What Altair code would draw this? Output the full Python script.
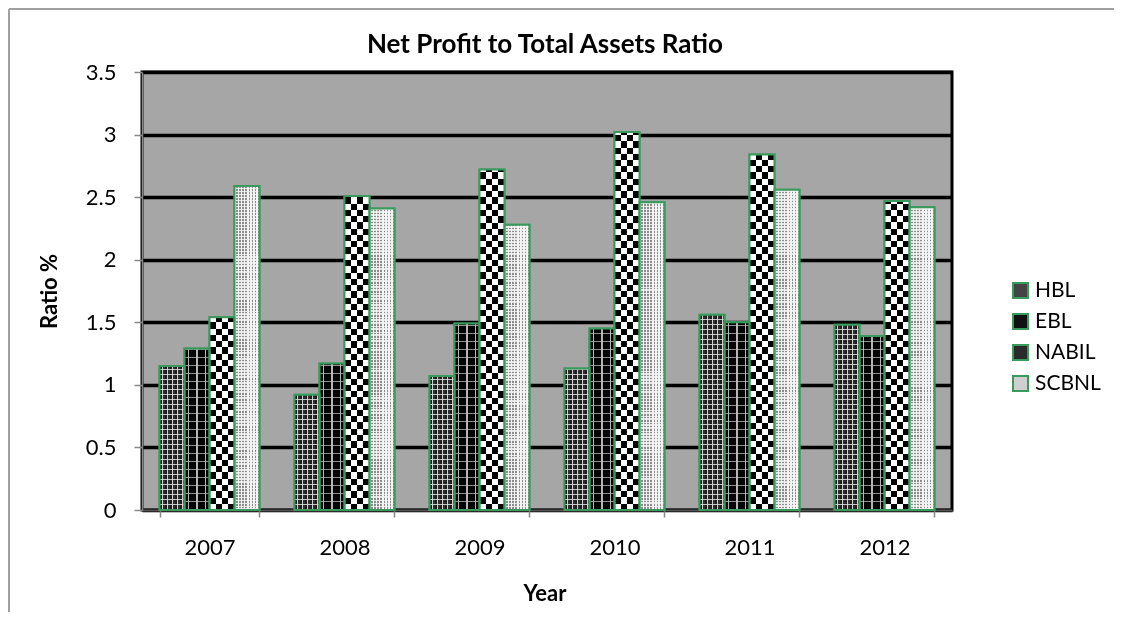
import altair as alt
import pandas as pd

years = ["2007", "2008", "2009", "2010", "2011", "2012"]
series = ["HBL", "EBL", "NABIL", "SCBNL"]
hbl = [1.15, 0.92, 1.07, 1.13, 1.56, 1.48]
ebl = [1.29, 1.17, 1.49, 1.45, 1.50, 1.39]
nabil = [1.54, 2.51, 2.72, 3.02, 2.84, 2.47]
scbnl = [2.59, 2.41, 2.28, 2.46, 2.56, 2.42]
y_ticks = [0, 0.5, 1, 1.5, 2, 2.5, 3, 3.5]

values = {"HBL": hbl, "EBL": ebl, "NABIL": nabil, "SCBNL": scbnl}
rows = []
for s in series:
    for yr, v in zip(years, values[s]):
        rows.append({"year": yr, "series": s, "ratio": v})
df = pd.DataFrame(rows)

GREEN = "#3a9a5e"
FONT = "Lato"
PLOT_W, PLOT_H, Y_MAX = 810, 438, 3.5
CLEAR = "rgba(0,0,0,0)"


def vstripes(pattern, repeats):
    total = sum(w for _, w in pattern) * repeats
    stops = []
    pos = 0.0
    for _ in range(repeats):
        for c, w in pattern:
            stops.append({"offset": pos / total, "color": c})
            pos += w
            stops.append({"offset": min(pos / total, 1.0), "color": c})
    return {"gradient": "linear", "x1": 0, "x2": 1, "y1": 0, "y2": 0, "stops": stops}


def hstripes(v, period, on_len, on_color):
    # horizontal bands counted from the bar's base, so they line up across bars
    h = v / Y_MAX * PLOT_H
    segs = []
    d = 0.0
    while d < h:
        segs.append((d, min(d + on_len, h), on_color))
        if d + on_len < h:
            segs.append((d + on_len, min(d + period, h), CLEAR))
        d += period
    stops = []
    for a, b, c in reversed(segs):
        top, bot = (h - b) / h, (h - a) / h
        stops.append({"offset": max(top, 0.0), "color": c})
        stops.append({"offset": min(bot, 1.0), "color": c})
    return {"gradient": "linear", "x1": 0, "x2": 0, "y1": 0, "y2": 1, "stops": stops}


base_grads = {
    "HBL": vstripes([("#1c1c1c", 2), ("#d0d0d0", 1), ("#2e2e2e", 2)], 5),
    "EBL": vstripes([("#050505", 3), ("#b5b5b5", 1), ("#050505", 3)], 3),
    "NABIL": vstripes([("#000000", 1), ("#ffffff", 1)], 2),
    "SCBNL": vstripes([("#f4f4f4", 1), ("#8c8c8c", 1)], 8),
}
overlay_style = {
    "HBL": (5.0, 1.3, "rgba(225,225,225,0.85)"),
    "EBL": (8.0, 1.2, "rgba(200,200,200,0.7)"),
    "SCBNL": (3.0, 1.5, "rgba(244,244,244,0.85)"),
}

base_fill = alt.FillValue(
    value=base_grads["SCBNL"],
    condition=[{"test": f"datum.series === '{s}'", "value": base_grads[s]} for s in series[:3]],
)

over_conds = []
for s, (period, on_len, col) in overlay_style.items():
    for yr, v in zip(years, values[s]):
        over_conds.append({
            "test": f"datum.series === '{s}' && datum.year === '{yr}'",
            "value": hstripes(v, period, on_len, col),
        })
over_fill = alt.FillValue(value=CLEAR, condition=over_conds)

checker_conds = []
for yr, v in zip(years, nabil):
    checker_conds.append({
        "test": f"datum.year === '{yr}'",
        "value": hstripes(v, 12.5, 6.25, "#ffffff"),
    })
checker_fill = alt.FillValue(value=CLEAR, condition=checker_conds)

xenc = alt.X(
    "year:N",
    sort=years,
    scale=alt.Scale(paddingInner=0.26, paddingOuter=0.13),
    axis=alt.Axis(
        title=None, labelAngle=0, tickBand="extent", grid=False,
        domainColor="#555555", domainWidth=2, tickColor="#888888", tickWidth=1.5,
        tickSize=7, labelPadding=20, labelFontSize=22, labelColor="black",
    ),
)
yenc = alt.Y(
    "ratio:Q",
    scale=alt.Scale(domain=[0, Y_MAX], nice=False),
    axis=alt.Axis(
        title="Ratio %", values=y_ticks, format="~g", grid=True, gridColor="black",
        gridWidth=3.5, domainColor="#888888", domainWidth=1.5, tickColor="#888888",
        tickWidth=1.5, tickSize=8, labelPadding=18, labelFontSize=22, labelColor="black",
        titleFontSize=22, titleFontWeight="bold", titlePadding=24, titleColor="black",
    ),
)
xoff = alt.XOffset("series:N", sort=series)

base = alt.Chart(df).encode(x=xenc, y=yenc, xOffset=xoff)

legend_bars = base.mark_bar(stroke=GREEN, strokeWidth=2).encode(
    color=alt.Color(
        "series:N",
        sort=series,
        scale=alt.Scale(domain=series, range=["#444444", "#111111", "#2a2a2a", "#cfcfcf"]),
        legend=alt.Legend(
            title=None, orient="none", legendX=868, legendY=208, symbolType="square",
            symbolSize=225, symbolStrokeColor=GREEN, symbolStrokeWidth=2,
            labelFontSize=21, labelColor="black", labelOffset=4, rowPadding=8,
        ),
    )
)
fill_bars = base.mark_bar(strokeWidth=0).encode(fill=base_fill)
line_bars = base.mark_bar(strokeWidth=0).encode(fill=over_fill)
checker_bars = (
    base.mark_bar(strokeWidth=0, blend="difference")
    .encode(fill=checker_fill)
    .transform_filter("datum.series === 'NABIL'")
)
outline_bars = base.mark_bar(stroke=GREEN, strokeWidth=2, fillOpacity=0).encode(
    fill=alt.value("white")
)

one = alt.Chart(alt.Data(values=[{"k": 0}]))
title_text = one.mark_text(
    text="Net Profit to Total Assets Ratio", fontSize=26, fontWeight="bold",
    align="center", baseline="alphabetic", color="black", font=FONT,
).encode(x=alt.value(PLOT_W / 2 - 2), y=alt.value(-19))
x_title = one.mark_text(
    text="Year", fontSize=22, fontWeight="bold",
    align="center", baseline="alphabetic", color="black", font=FONT,
).encode(x=alt.value(PLOT_W / 2 - 2), y=alt.value(PLOT_H + 91))
frame_left = one.mark_rule(color="#a0a0a0", strokeWidth=2).encode(
    x=alt.value(-133), y=alt.value(-63), y2=alt.value(560)
)
frame_top = one.mark_rule(color="#a0a0a0", strokeWidth=2).encode(
    x=alt.value(-133), x2=alt.value(980), y=alt.value(-63)
)

chart = (
    alt.layer(
        legend_bars, fill_bars, line_bars, checker_bars, outline_bars,
        title_text, x_title, frame_left, frame_top,
    )
    .properties(
        width=PLOT_W,
        height=PLOT_H,
        autosize=alt.AutoSizeParams(type="none"),
        padding={"left": 134, "top": 64, "right": 162, "bottom": 102},
    )
    .configure(font=FONT)
    .configure_view(fill="#a6a6a6", stroke="black", strokeWidth=3)
)

chart.save("out.html", embed_options={"renderer": "svg", "actions": False})
